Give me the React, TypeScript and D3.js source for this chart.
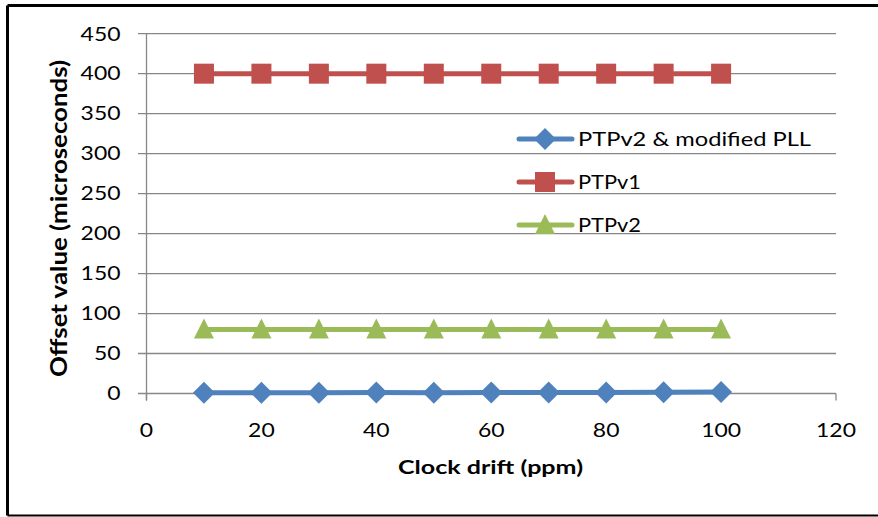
import React from "react";
import * as d3 from "d3";

const drift = [10, 20, 30, 40, 50, 60, 70, 80, 90, 100];
const pllValues = [0.8, 0.8, 0.9, 1.2, 1.0, 1.3, 1.3, 1.4, 1.7, 1.8];
const ptpv1Values = [400, 400, 400, 400, 400, 400, 400, 400, 400, 400];
const ptpv2Values = [80, 80, 80, 80, 80, 80, 80, 80, 80, 80];
const xTicks = [0, 20, 40, 60, 80, 100, 120];
const yTicks = [0, 50, 100, 150, 200, 250, 300, 350, 400, 450];
const seriesNames = ["PTPv2 & modified PLL", "PTPv1", "PTPv2"];

const W = 878;
const H = 517;
const FONT = "Lato, 'Open Sans', sans-serif";
const COLORS = ["#4F81BD", "#C0504D", "#9BBB59"];
const MARKERS = ["diamond", "square", "triangle"];
const SX = 1.24;
const FS = 18.5;

function Marker({ type, x, y, color }: { type: string; x: number; y: number; color: string }) {
  if (type === "square") {
    return <rect x={x - 10} y={y - 10} width={20} height={20} fill={color} />;
  }
  if (type === "diamond") {
    return (
      <path d={`M${x},${y - 11}L${x + 11},${y}L${x},${y + 11}L${x - 11},${y}Z`} fill={color} />
    );
  }
  return <path d={`M${x},${y - 11}L${x + 10},${y + 9}L${x - 10},${y + 9}Z`} fill={color} />;
}

export default function App() {
  const x = d3.scaleLinear().domain([0, 120]).range([146.5, 836]);
  const y = d3.scaleLinear().domain([0, 450]).range([393.5, 33.7]);
  const line = d3
    .line<number>()
    .x((_, i) => x(drift[i]))
    .y((v) => y(v));
  const allSeries = [pllValues, ptpv1Values, ptpv2Values];
  const legendY = [139, 182, 225];
  const legendLen = [233, 63, 63];

  return (
    <div style={{ position: "absolute", left: 0, top: 0 }}>
      <svg width={W} height={H} style={{ display: "block", background: "#fff" }}>
        {/* frame */}
        <line x1={7.5} y1={5.5} x2={W} y2={5.5} stroke="#000" strokeWidth={3} />
        <line x1={7.5} y1={5.5} x2={7.5} y2={515.5} stroke="#000" strokeWidth={3} />
        <line x1={7.5} y1={515.5} x2={W} y2={515.5} stroke="#000" strokeWidth={2} />

        {/* gridlines */}
        {yTicks.map((t) => (
          <line key={"g" + t} x1={138} x2={836} y1={y(t)} y2={y(t)} stroke="#878787" strokeWidth={1.3} />
        ))}
        {/* y axis */}
        <line x1={x(0)} x2={x(0)} y1={y(450)} y2={y(0) + 7} stroke="#878787" strokeWidth={1.3} />
        {/* x tick marks */}
        {xTicks.map((t) => (
          <line key={"xt" + t} x1={x(t)} x2={x(t)} y1={y(0)} y2={y(0) + 7} stroke="#878787" strokeWidth={1.3} />
        ))}

        {/* y tick labels */}
        {yTicks.map((t) => (
          <text
            key={"yl" + t}
            transform={`translate(120.5,${y(t) + 6.8}) scale(${SX},1)`}
            textAnchor="end"
            fontFamily={FONT}
            fontSize={FS}
            fill="#000"
          >
            {t}
          </text>
        ))}
        {/* x tick labels */}
        {xTicks.map((t) => (
          <text
            key={"xl" + t}
            transform={`translate(${x(t)},437) scale(${SX},1)`}
            textAnchor="middle"
            fontFamily={FONT}
            fontSize={FS}
            fill="#000"
          >
            {t}
          </text>
        ))}

        {/* axis titles */}
        <text
          x={398}
          y={474}
          textLength={185}
          lengthAdjust="spacingAndGlyphs"
          fontFamily={FONT}
          fontSize={19}
          fontWeight="bold"
          fill="#000"
        >
          Clock drift (ppm)
        </text>
        <text
          transform={`translate(67,377) scale(1.2,1) rotate(-90)`}
          textLength={317}
          lengthAdjust="spacingAndGlyphs"
          fontFamily={FONT}
          fontSize={19}
          fontWeight="bold"
          fill="#000"
        >
          Offset value (microseconds)
        </text>

        {/* series */}
        {allSeries.map((vals, si) => (
          <g key={"s" + si}>
            <path d={line(vals) || ""} fill="none" stroke={COLORS[si]} strokeWidth={5} />
            {vals.map((v, i) => (
              <Marker key={i} type={MARKERS[si]} x={x(drift[i])} y={y(v)} color={COLORS[si]} />
            ))}
          </g>
        ))}

        {/* legend */}
        {seriesNames.map((name, si) => (
          <g key={"l" + si}>
            <line x1={519} x2={572} y1={legendY[si]} y2={legendY[si]} stroke={COLORS[si]} strokeWidth={5} strokeLinecap="round" />
            <Marker type={MARKERS[si]} x={545} y={legendY[si]} color={COLORS[si]} />
            <text
              x={578}
              y={legendY[si] + 7}
              textLength={legendLen[si]}
              lengthAdjust="spacingAndGlyphs"
              fontFamily={FONT}
              fontSize={FS}
              fill="#000"
            >
              {name}
            </text>
          </g>
        ))}
      </svg>
    </div>
  );
}
